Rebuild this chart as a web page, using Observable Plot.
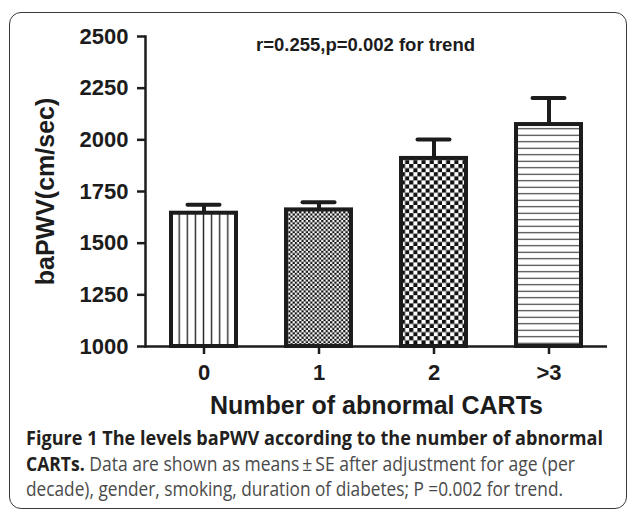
<!DOCTYPE html>
<html>
<head>
<meta charset="utf-8">
<script src="https://cdn.jsdelivr.net/npm/d3@7"></script>
<script src="https://cdn.jsdelivr.net/npm/@observablehq/plot@0.6"></script>
<style>
  html, body { margin: 0; padding: 0; background: #fff; }
  #wrap { position: relative; width: 629px; height: 510px; overflow: hidden; }
  #box { position: absolute; left: 9px; top: 12px; width: 618px; height: 497px; box-sizing: border-box;
         border: 1.3px solid #3a3a3a; border-radius: 12px; }
  #chart { position: absolute; left: 0; top: 0; }
  .cap { position: absolute; left: 26px; white-space: nowrap; font-family: "Open Sans", "Noto Sans", sans-serif;
         font-size: 20px; line-height: 25px; color: #4a4a4a; transform-origin: 0 50%; }
  .cap b { color: #231f20; font-weight: 700; }
</style>
</head>
<body>
<div id="wrap">
  <div id="box"></div>
  <div id="chart"></div>
</div>
<script>
// ---- data ----
const categories = ["0", "1", "2", ">3"];
const means = [1645, 1661, 1910, 2074];
const se = [41, 37, 92, 128];
const yTicks = [1000, 1250, 1500, 1750, 2000, 2250, 2500];
const yLabel = "baPWV(cm/sec)";
const xLabel = "Number of abnormal CARTs";
const annotation = "r=0.255,p=0.002 for trend";
const captionBold = ["Figure 1 The levels baPWV according to the number of abnormal", "CARTs.", ""];
const captionRegular = ["", " Data are shown as means\u2009\u00b1\u2009SE after adjustment for age (per",
  "decade), gender, smoking, duration of diabetes; P =0.002 for trend."];

const data = categories.map((c, i) => ({cat: c, mean: means[i], upper: means[i] + se[i], pat: `url(#pat${i})`}));
const ink = "#1c1c1c";

const plot = Plot.plot({
  width: 629, height: 425,
  marginLeft: 145, marginRight: 22, marginTop: 36, marginBottom: 79,
  style: {fontFamily: "'Liberation Sans', Arial, sans-serif", color: ink, background: "transparent"},
  x: {domain: categories, paddingInner: 0.437, paddingOuter: 0.2185},
  y: {domain: [1000, 2500]},
  color: {type: "identity"},
  marks: [
    Plot.barY(data, {x: "cat", y1: 1000, y2: "mean", fill: "pat", stroke: ink, strokeWidth: 4}),
    Plot.ruleX(data, {x: "cat", y1: "mean", y2: "upper", stroke: ink, strokeWidth: 4}),
    Plot.tickY(data, {x: "cat", y: "upper", stroke: ink, strokeWidth: 4, insetLeft: 16.5, insetRight: 16.5, strokeLinecap: "round"}),
    Plot.axisY({ticks: yTicks, tickSize: 8, tickPadding: 9, fontSize: 22, fontWeight: "bold", strokeWidth: 2.5, label: null, tickFormat: d => String(d)}),
    Plot.axisX({tickSize: 8, tickPadding: 10, fontSize: 22, fontWeight: "bold", strokeWidth: 2.5, label: null}),
    Plot.frame({anchor: "left", stroke: ink, strokeWidth: 2.5}),
    Plot.ruleY([1000], {stroke: ink, strokeWidth: 2.5}),
    Plot.text([yLabel], {text: d => d, frameAnchor: "left", textAnchor: "middle", lineAnchor: "middle", dx: -100, rotate: -90, fontSize: 25, fontWeight: "bold"}),
    Plot.text([xLabel], {text: d => d, frameAnchor: "bottom", dy: 59, lineAnchor: "middle", fontSize: 25, fontWeight: "bold"}),
    Plot.text([annotation], {text: d => d, frameAnchor: "top", dx: -11, dy: 9, lineAnchor: "middle", fontSize: 18.5, fontWeight: "bold"})
  ]
});

// ---- fill patterns ----
const xs = plot.scale("x");
const bw = xs.bandwidth;
const defs = d3.select(plot).insert("defs", ":first-child");
// 0: vertical lines
{
  const cx = xs.apply(categories[0]) + bw / 2, w = 8.1;
  const p = defs.append("pattern").attr("id", "pat0").attr("patternUnits", "userSpaceOnUse")
    .attr("x", cx - w / 2).attr("y", 0).attr("width", w).attr("height", 10);
  p.append("rect").attr("width", w).attr("height", 10).attr("fill", "#fff");
  p.append("line").attr("x1", w / 2).attr("x2", w / 2).attr("y1", 0).attr("y2", 10).attr("stroke", "#2a2a2a").attr("stroke-width", 1.4);
}
// 1: fine checker, 2: coarse checker
[[1, 2.2], [2, 4.1]].forEach(([i, c]) => {
  const x0 = xs.apply(categories[i]);
  const p = defs.append("pattern").attr("id", "pat" + i).attr("patternUnits", "userSpaceOnUse")
    .attr("x", x0).attr("y", 0).attr("width", 2 * c).attr("height", 2 * c);
  p.append("rect").attr("width", 2 * c).attr("height", 2 * c).attr("fill", "#fff");
  p.append("rect").attr("width", c).attr("height", c).attr("fill", "#111");
  p.append("rect").attr("x", c).attr("y", c).attr("width", c).attr("height", c).attr("fill", "#111");
});
// 3: horizontal lines
{
  const h = 6.5;
  const p = defs.append("pattern").attr("id", "pat3").attr("patternUnits", "userSpaceOnUse")
    .attr("x", 0).attr("y", 2).attr("width", 10).attr("height", h);
  p.append("rect").attr("width", 10).attr("height", h).attr("fill", "#fff");
  p.append("line").attr("x1", 0).attr("x2", 10).attr("y1", h / 2).attr("y2", h / 2).attr("stroke", "#333").attr("stroke-width", 1.1);
}
document.getElementById("chart").appendChild(plot);

// ---- caption ----
const wrap = document.getElementById("wrap");
const tops = [425, 450.5, 476];
const targetW = [577, 549, 537];
captionBold.forEach((b, i) => {
  const div = document.createElement("div");
  div.className = "cap";
  div.style.top = tops[i] + "px";
  if (b) { const el = document.createElement("b"); el.textContent = b; div.appendChild(el); }
  if (captionRegular[i]) div.appendChild(document.createTextNode(captionRegular[i]));
  wrap.appendChild(div);
  const w = div.getBoundingClientRect().width;
  div.style.transform = `scaleX(${targetW[i] / w})`;
});
</script>
</body>
</html>
